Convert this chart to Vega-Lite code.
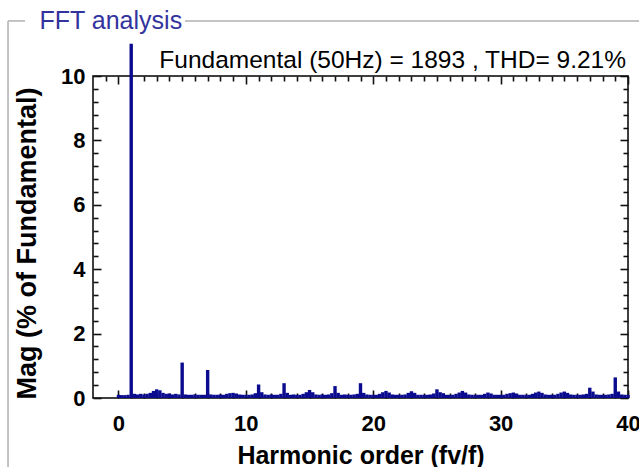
{
  "$schema": "https://vega.github.io/schema/vega-lite/v6.json",
  "width": 535,
  "height": 322,
  "autosize": {"type": "none"},
  "padding": {"left": 93, "top": 76, "right": 11, "bottom": 69},
  "background": "white",
  "datasets": {
    "fft": [
      {"h":0,"mag":0.1},{"h":0.25,"mag":0.09},{"h":0.5,"mag":0.09},{"h":0.75,"mag":0.1},
      {"h":1,"mag":11},{"h":1.25,"mag":0.13},{"h":1.5,"mag":0.11},{"h":1.75,"mag":0.13},
      {"h":2,"mag":0.11},{"h":2.25,"mag":0.13},{"h":2.5,"mag":0.16},{"h":2.75,"mag":0.22},
      {"h":3,"mag":0.27},{"h":3.25,"mag":0.24},{"h":3.5,"mag":0.16},{"h":3.75,"mag":0.13},
      {"h":4,"mag":0.14},{"h":4.25,"mag":0.11},{"h":4.5,"mag":0.13},{"h":4.75,"mag":0.11},
      {"h":5,"mag":1.1},{"h":5.25,"mag":0.11},{"h":5.5,"mag":0.1},{"h":5.75,"mag":0.1},
      {"h":6,"mag":0.11},{"h":6.25,"mag":0.1},{"h":6.5,"mag":0.1},{"h":6.75,"mag":0.1},
      {"h":7,"mag":0.87},{"h":7.25,"mag":0.11},{"h":7.5,"mag":0.1},{"h":7.75,"mag":0.1},
      {"h":8,"mag":0.11},{"h":8.25,"mag":0.1},{"h":8.5,"mag":0.13},{"h":8.75,"mag":0.15},
      {"h":9,"mag":0.16},{"h":9.25,"mag":0.14},{"h":9.5,"mag":0.11},{"h":9.75,"mag":0.1},
      {"h":10,"mag":0.1},{"h":10.25,"mag":0.1},{"h":10.5,"mag":0.11},{"h":10.75,"mag":0.15},
      {"h":11,"mag":0.42},{"h":11.25,"mag":0.18},{"h":11.5,"mag":0.11},{"h":11.75,"mag":0.1},
      {"h":12,"mag":0.11},{"h":12.25,"mag":0.1},{"h":12.5,"mag":0.1},{"h":12.75,"mag":0.13},
      {"h":13,"mag":0.46},{"h":13.25,"mag":0.16},{"h":13.5,"mag":0.1},{"h":13.75,"mag":0.11},
      {"h":14,"mag":0.1},{"h":14.25,"mag":0.1},{"h":14.5,"mag":0.13},{"h":14.75,"mag":0.18},
      {"h":15,"mag":0.25},{"h":15.25,"mag":0.18},{"h":15.5,"mag":0.11},{"h":15.75,"mag":0.1},
      {"h":16,"mag":0.11},{"h":16.25,"mag":0.1},{"h":16.5,"mag":0.11},{"h":16.75,"mag":0.15},
      {"h":17,"mag":0.37},{"h":17.25,"mag":0.16},{"h":17.5,"mag":0.1},{"h":17.75,"mag":0.11},
      {"h":18,"mag":0.1},{"h":18.25,"mag":0.1},{"h":18.5,"mag":0.11},{"h":18.75,"mag":0.13},
      {"h":19,"mag":0.46},{"h":19.25,"mag":0.16},{"h":19.5,"mag":0.11},{"h":19.75,"mag":0.1},
      {"h":20,"mag":0.1},{"h":20.25,"mag":0.1},{"h":20.5,"mag":0.13},{"h":20.75,"mag":0.18},
      {"h":21,"mag":0.22},{"h":21.25,"mag":0.17},{"h":21.5,"mag":0.11},{"h":21.75,"mag":0.1},
      {"h":22,"mag":0.1},{"h":22.25,"mag":0.1},{"h":22.5,"mag":0.11},{"h":22.75,"mag":0.16},
      {"h":23,"mag":0.21},{"h":23.25,"mag":0.16},{"h":23.5,"mag":0.1},{"h":23.75,"mag":0.1},
      {"h":24,"mag":0.1},{"h":24.25,"mag":0.1},{"h":24.5,"mag":0.11},{"h":24.75,"mag":0.14},
      {"h":25,"mag":0.27},{"h":25.25,"mag":0.18},{"h":25.5,"mag":0.15},{"h":25.75,"mag":0.1},
      {"h":26,"mag":0.1},{"h":26.25,"mag":0.1},{"h":26.5,"mag":0.13},{"h":26.75,"mag":0.17},
      {"h":27,"mag":0.22},{"h":27.25,"mag":0.17},{"h":27.5,"mag":0.11},{"h":27.75,"mag":0.1},
      {"h":28,"mag":0.1},{"h":28.25,"mag":0.1},{"h":28.5,"mag":0.1},{"h":28.75,"mag":0.13},
      {"h":29,"mag":0.17},{"h":29.25,"mag":0.14},{"h":29.5,"mag":0.1},{"h":29.75,"mag":0.1},
      {"h":30,"mag":0.1},{"h":30.25,"mag":0.1},{"h":30.5,"mag":0.13},{"h":30.75,"mag":0.15},
      {"h":31,"mag":0.17},{"h":31.25,"mag":0.14},{"h":31.5,"mag":0.1},{"h":31.75,"mag":0.1},
      {"h":32,"mag":0.1},{"h":32.25,"mag":0.1},{"h":32.5,"mag":0.13},{"h":32.75,"mag":0.17},
      {"h":33,"mag":0.2},{"h":33.25,"mag":0.16},{"h":33.5,"mag":0.11},{"h":33.75,"mag":0.1},
      {"h":34,"mag":0.1},{"h":34.25,"mag":0.1},{"h":34.5,"mag":0.13},{"h":34.75,"mag":0.17},
      {"h":35,"mag":0.2},{"h":35.25,"mag":0.16},{"h":35.5,"mag":0.11},{"h":35.75,"mag":0.1},
      {"h":36,"mag":0.1},{"h":36.25,"mag":0.1},{"h":36.5,"mag":0.11},{"h":36.75,"mag":0.13},
      {"h":37,"mag":0.32},{"h":37.25,"mag":0.2},{"h":37.5,"mag":0.11},{"h":37.75,"mag":0.1},
      {"h":38,"mag":0.1},{"h":38.25,"mag":0.1},{"h":38.5,"mag":0.11},{"h":38.75,"mag":0.13},
      {"h":39,"mag":0.64},{"h":39.25,"mag":0.2},{"h":39.5,"mag":0.11},{"h":39.75,"mag":0.1},
      {"h":40,"mag":0.1}
    ]
  },
  "data": {"name": "fft"},
  "resolve": {"axis": {"x": "independent", "y": "independent"}},
  "layer": [
    {
      "mark": {"type": "bar", "orient": "vertical", "size": 3.4, "color": "#0b0b8f", "clip": false},
      "encoding": {
        "x": {
          "field": "h", "type": "quantitative",
          "scale": {"domain": [-2, 40], "nice": false, "zero": false, "padding": 0},
          "axis": {
            "values": [0, 10, 20, 30, 40], "offset": -8, "tickSize": 8,
            "tickColor": "#111111", "tickWidth": 1.6, "domain": false, "grid": false,
            "labelPadding": 15, "labelFontSize": 22, "labelFlush": false,
            "title": "Harmonic order (fv/f)", "titleFontSize": 25, "titlePadding": 9
          }
        },
        "y": {
          "field": "mag", "type": "quantitative",
          "scale": {"domain": [0, 10], "nice": false},
          "axis": {
            "values": [0, 2, 4, 6, 8, 10], "offset": -8, "tickSize": 8,
            "tickColor": "#111111", "tickWidth": 1.6, "domain": false, "grid": false,
            "labelPadding": 8, "labelFontSize": 22,
            "title": "Mag (% of Fundamental)", "titleFontSize": 27, "titlePadding": 19, "titleY": 167
          }
        }
      }
    },
    {
      "mark": {"type": "bar", "orient": "vertical", "opacity": 0},
      "encoding": {
        "x": {"field": "h", "type": "quantitative", "axis": {"orient": "bottom", "offset": -5, "tickSize": 5, "tickColor": "#111111", "tickWidth": 1.6, "domain": false, "grid": false, "values": [1,2,3,4,5,6,7,8,9,11,12,13,14,15,16,17,18,19,21,22,23,24,25,26,27,28,29,31,32,33,34,35,36,37,38,39], "labels": false, "title": null}},
        "y": {"field": "mag", "type": "quantitative", "axis": {"orient": "left", "offset": -5, "tickSize": 5, "tickColor": "#111111", "tickWidth": 1.6, "domain": false, "grid": false, "values": [0.4,0.8,1.2,1.6,2.4,2.8,3.2,3.6,4.4,4.8,5.2,5.6,6.4,6.8,7.2,7.6,8.4,8.8,9.2,9.6], "labels": false, "title": null}}
      }
    },
    {
      "mark": {"type": "bar", "orient": "vertical", "opacity": 0},
      "encoding": {
        "x": {"field": "h", "type": "quantitative", "axis": {"orient": "top", "offset": -5, "tickSize": 5, "tickColor": "#111111", "tickWidth": 1.6, "domain": false, "grid": false, "values": [-1,1,2,3,4,5,6,7,8,9,11,12,13,14,15,16,17,18,19,21,22,23,24,25,26,27,28,29,31,32,33,34,35,36,37,38,39], "labels": false, "title": null}},
        "y": {"field": "mag", "type": "quantitative", "axis": {"orient": "right", "offset": -5, "tickSize": 5, "tickColor": "#111111", "tickWidth": 1.6, "domain": false, "grid": false, "values": [0.4,0.8,1.2,1.6,2.4,2.8,3.2,3.6,4.4,4.8,5.2,5.6,6.4,6.8,7.2,7.6,8.4,8.8,9.2,9.6], "labels": false, "title": null}}
      }
    },
    {
      "mark": {"type": "bar", "orient": "vertical", "opacity": 0},
      "encoding": {
        "x": {"field": "h", "type": "quantitative", "axis": {"orient": "top", "offset": -8, "tickSize": 8, "tickColor": "#111111", "tickWidth": 1.6, "domain": false, "grid": false, "values": [0, 10, 20, 30, 40], "labels": false, "title": null}},
        "y": {"field": "mag", "type": "quantitative", "axis": {"orient": "right", "offset": -8, "tickSize": 8, "tickColor": "#111111", "tickWidth": 1.6, "domain": false, "grid": false, "values": [0, 2, 4, 6, 8, 10], "labels": false, "title": null}}
      }
    },
    {
      "data": {"values": [{"label": "Fundamental (50Hz) = 1893 , THD= 9.21%"}]},
      "mark": {"type": "text", "align": "right", "baseline": "alphabetic", "dy": -8, "dx": -2, "fontSize": 24.5, "font": "Liberation Sans", "color": "#000"},
      "encoding": {
        "x": {"datum": 40, "type": "quantitative", "axis": null},
        "y": {"datum": 10, "type": "quantitative", "axis": null},
        "text": {"field": "label"}
      }
    },
    {
      "data": {"values": [{"label": "FFT analysis"}]},
      "mark": {"type": "text", "align": "left", "baseline": "middle", "fontSize": 25, "font": "Liberation Sans", "color": "#33339e", "clip": false},
      "encoding": {
        "x": {"datum": -6.2, "type": "quantitative", "axis": null},
        "y": {"datum": 11.71, "type": "quantitative", "axis": null},
        "text": {"field": "label"}
      }
    },
    {
      "data": {"values": [{"seg": "left"}]},
      "mark": {"type": "rule", "color": "#b0b0b0", "strokeWidth": 1.5},
      "encoding": {
        "x": {"datum": -8.67, "type": "quantitative", "axis": null},
        "y": {"datum": 11.71, "type": "quantitative", "axis": null},
        "y2": {"datum": -2.2}
      }
    },
    {
      "data": {"values": [{"seg": "top-a"}]},
      "mark": {"type": "rule", "color": "#b0b0b0", "strokeWidth": 1.5},
      "encoding": {
        "x": {"datum": -8.67, "type": "quantitative", "axis": null},
        "x2": {"datum": -7.34},
        "y": {"datum": 11.71, "type": "quantitative", "axis": null}
      }
    },
    {
      "data": {"values": [{"seg": "top-b"}]},
      "mark": {"type": "rule", "color": "#b0b0b0", "strokeWidth": 1.5},
      "encoding": {
        "x": {"datum": 5.22, "type": "quantitative", "axis": null},
        "x2": {"datum": 40.9},
        "y": {"datum": 11.71, "type": "quantitative", "axis": null}
      }
    }
  ],
  "config": {
    "view": {"stroke": "#000", "strokeWidth": 1.5},
    "axis": {
      "labelColor": "#000",
      "titleColor": "#000",
      "labelFont": "Liberation Sans",
      "titleFont": "Liberation Sans",
      "labelFontWeight": "bold",
      "titleFontWeight": "bold"
    }
  }
}
